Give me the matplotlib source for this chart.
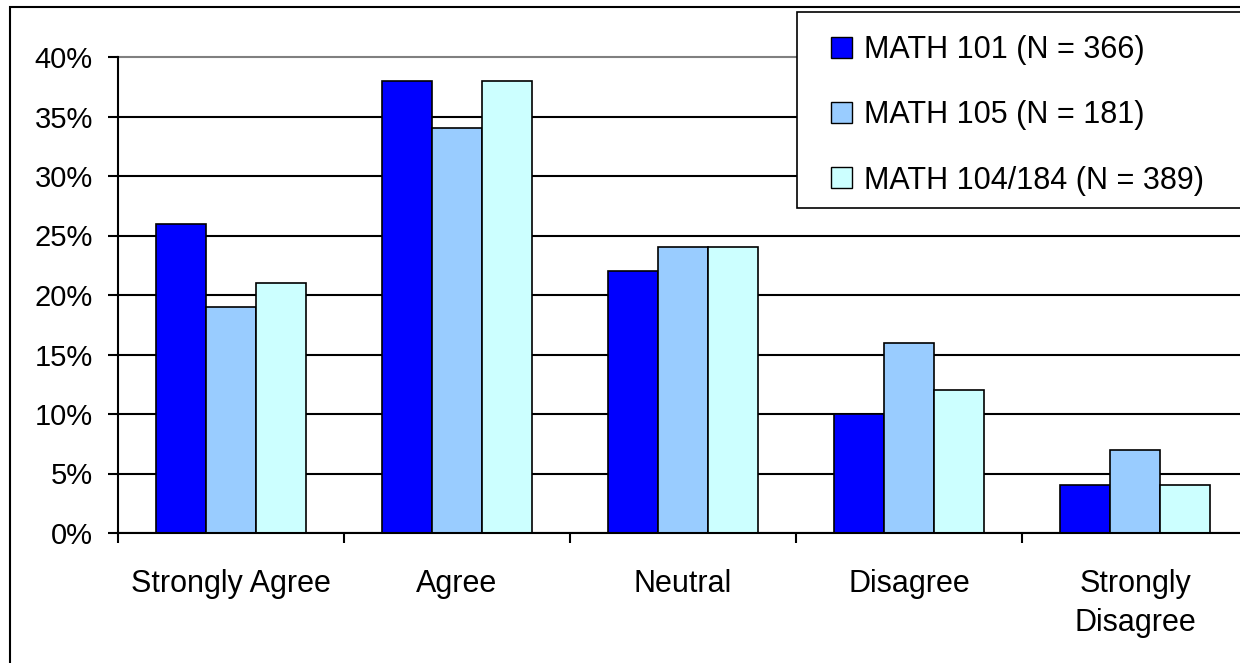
import numpy as np
import matplotlib.pyplot as plt
from matplotlib.patches import Rectangle, Patch
from matplotlib.ticker import PercentFormatter

plt.rcParams['font.family'] = ['Liberation Sans', 'DejaVu Sans']

# Daten
categories = ["Strongly Agree", "Agree", "Neutral", "Disagree", "Strongly\nDisagree"]
series_names = ["MATH 101 (N = 366)", "MATH 105 (N = 181)", "MATH 104/184 (N = 389)"]
math101 = [26, 38, 22, 10, 4]
math105 = [19, 34, 24, 16, 7]
math104 = [21, 38, 24, 12, 4]
colors = ["#0000FF", "#99CCFF", "#CCFFFF"]

W, H = 1240, 663
fs = 21
fig = plt.figure(figsize=(W / 100, H / 100), dpi=100)
ax = fig.add_axes([118 / W, 1 - 533 / H, 1130 / W, 476 / H])

x = np.arange(len(categories))
bw = 0.2226
for i, (vals, c) in enumerate(zip([math101, math105, math104], colors)):
    ax.bar(x + (i - 1) * bw, vals, width=bw, color=c, edgecolor="black",
           linewidth=1.2, zorder=3)

ax.set_xlim(-0.5, len(categories) - 0.5)
ax.set_ylim(0, 40)
ax.set_yticks(np.arange(0, 41, 5))
ax.yaxis.set_major_formatter(PercentFormatter(decimals=0))

# Kategorie-Trennstriche als Haupt-Ticks, Beschriftung als Neben-Ticks
ax.set_xticks(np.arange(-0.5, len(categories), 1.0))
ax.set_xticklabels([])
ax.set_xticks(x, minor=True)
ax.set_xticklabels(categories, minor=True, fontsize=22, linespacing=1.4)
ax.tick_params(axis="x", which="major", direction="out", length=7, width=1.5)
ax.tick_params(axis="x", which="minor", length=0, pad=26)
ax.tick_params(axis="y", direction="out", length=7, width=1.5, pad=11, labelsize=fs)

ax.grid(axis="y", color="black", linewidth=1.5, zorder=0)
ax.set_axisbelow(True)
ax.get_ygridlines()[-1].set_visible(False)

ax.spines["right"].set_visible(False)
ax.spines["top"].set_color("#808080")
ax.spines["top"].set_linewidth(1.5)
for s in ["left", "bottom"]:
    ax.spines[s].set_linewidth(1.5)
    ax.spines[s].set_zorder(4)

# Rahmen um Legende und Diagramm
fig.patches.append(Rectangle((797 / W, 1 - 208 / H), 500 / W, 196 / H,
                             transform=fig.transFigure, facecolor="white",
                             edgecolor="black", linewidth=1.2, zorder=2))
fig.patches.append(Rectangle((10 / W, -0.1), 1.2, 1.1 - 7 / H,
                             transform=fig.transFigure, fill=False,
                             edgecolor="black", linewidth=1.5, zorder=2))

# Legende
handles = [Patch(facecolor=c, edgecolor="black", linewidth=1.0) for c in colors]
leg = fig.legend(handles, series_names, loc="upper left",
                 bbox_to_anchor=(816 / W, 1 - 20 / H), frameon=False,
                 fontsize=22, handlelength=0.68, handleheight=0.68,
                 handletextpad=0.4, labelspacing=1.15, borderpad=0)
leg.set_zorder(3)

fig.savefig("out.png", dpi=100)
